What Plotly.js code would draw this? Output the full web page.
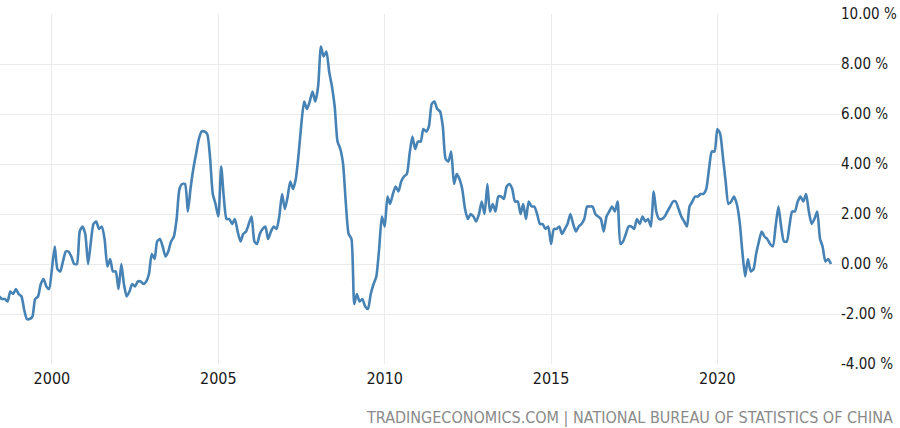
<!DOCTYPE html>
<html>
<head>
<meta charset="utf-8">
<script src="https://cdn.plot.ly/plotly-3.0.1.min.js"></script>
<style>
  html, body { margin: 0; padding: 0; background: #fff; }
  #chart { width: 900px; height: 428px; }
</style>
</head>
<body>
<div id="chart"></div>
<script>
// China inflation rate, yoy %, monthly, starting June 1998
var startYear = 1998, startMonth = 6;
var cpi1998 = [-1.3, -1.4, -1.4, -1.5, -1.1, -1.2, -1.0];
var cpi1999 = [-1.2, -1.3, -1.8, -2.2, -2.2, -2.1, -1.4, -1.3, -0.8, -0.6, -0.9, -1.0];
var cpi2000 = [-0.2, 0.7, -0.2, -0.3, 0.1, 0.5, 0.5, 0.3, 0.0, 0.0, 1.3, 1.5];
var cpi2001 = [1.2, 0.0, 0.8, 1.6, 1.7, 1.4, 1.5, 1.0, -0.1, 0.2, -0.3, -0.3];
var cpi2002 = [-1.0, 0.0, -0.8, -1.3, -1.1, -0.8, -0.9, -0.7, -0.7, -0.8, -0.7, -0.4];
var cpi2003 = [0.4, 0.2, 0.9, 1.0, 0.7, 0.3, 0.5, 0.9, 1.1, 1.8, 3.0, 3.2];
var cpi2004 = [3.2, 2.1, 3.0, 3.8, 4.4, 5.0, 5.3, 5.3, 5.2, 4.3, 2.8, 2.4];
var cpi2005 = [1.9, 3.9, 2.7, 1.8, 1.8, 1.6, 1.8, 1.3, 0.9, 1.2, 1.3, 1.6];
var cpi2006 = [1.9, 0.9, 0.8, 1.2, 1.4, 1.5, 1.0, 1.3, 1.5, 1.4, 1.9, 2.8];
var cpi2007 = [2.2, 2.7, 3.3, 3.0, 3.4, 4.4, 5.6, 6.5, 6.2, 6.5, 6.9, 6.5];
var cpi2008 = [7.1, 8.7, 8.3, 8.5, 7.7, 7.1, 6.3, 4.9, 4.6, 4.0, 2.4, 1.2];
var cpi2009 = [1.0, -1.6, -1.2, -1.5, -1.4, -1.7, -1.8, -1.2, -0.8, -0.5, 0.6, 1.9];
var cpi2010 = [1.5, 2.7, 2.4, 2.8, 3.1, 2.9, 3.3, 3.5, 3.6, 4.4, 5.1, 4.6];
var cpi2011 = [4.9, 4.9, 5.4, 5.3, 5.5, 6.4, 6.5, 6.2, 6.1, 5.5, 4.2, 4.1];
var cpi2012 = [4.5, 3.2, 3.6, 3.4, 3.0, 2.2, 1.8, 2.0, 1.9, 1.7, 2.0, 2.5];
var cpi2013 = [2.0, 3.2, 2.1, 2.4, 2.1, 2.7, 2.7, 2.6, 3.1, 3.2, 3.0, 2.5];
var cpi2014 = [2.5, 2.0, 2.4, 1.8, 2.5, 2.3, 2.3, 2.0, 1.6, 1.6, 1.4, 1.5];
var cpi2015 = [0.8, 1.4, 1.4, 1.5, 1.2, 1.4, 1.6, 2.0, 1.6, 1.3, 1.5, 1.6];
var cpi2016 = [1.8, 2.3, 2.3, 2.3, 2.0, 1.9, 1.8, 1.3, 1.9, 2.1, 2.3, 2.1];
var cpi2017 = [2.5, 0.8, 0.9, 1.2, 1.5, 1.5, 1.4, 1.8, 1.6, 1.9, 1.7, 1.8];
var cpi2018 = [1.5, 2.9, 2.1, 1.8, 1.8, 1.9, 2.1, 2.3, 2.5, 2.5, 2.2, 1.9];
var cpi2019 = [1.7, 1.5, 2.3, 2.5, 2.7, 2.7, 2.8, 2.8, 3.0, 3.8, 4.5, 4.5];
var cpi2020 = [5.4, 5.2, 4.3, 3.3, 2.4, 2.5, 2.7, 2.4, 1.7, 0.5, -0.5, 0.2];
var cpi2021 = [-0.3, -0.2, 0.4, 0.9, 1.3, 1.1, 1.0, 0.8, 0.7, 1.5, 2.3, 1.5];
var cpi2022 = [0.9, 0.9, 1.5, 2.1, 2.1, 2.5, 2.7, 2.5, 2.8, 2.1, 1.6, 1.8];
var cpi2023 = [2.1, 1.0, 0.7, 0.1, 0.2, 0.0];

var yTicks = [-4, -2, 0, 2, 4, 6, 8, 10];
var xTickYears = ['2000', '2005', '2010', '2015', '2020'];
var sourceText = 'TRADINGECONOMICS.COM | NATIONAL BUREAU OF STATISTICS OF CHINA';

var values = [].concat(cpi1998, cpi1999, cpi2000, cpi2001, cpi2002, cpi2003, cpi2004,
  cpi2005, cpi2006, cpi2007, cpi2008, cpi2009, cpi2010, cpi2011, cpi2012, cpi2013,
  cpi2014, cpi2015, cpi2016, cpi2017, cpi2018, cpi2019, cpi2020, cpi2021, cpi2022, cpi2023);

var dates = [];
for (var i = 0; i < values.length; i++) {
  var m = startMonth - 1 + i;
  var y = startYear + Math.floor(m / 12);
  var mm = (m % 12) + 1;
  dates.push(y + '-' + (mm < 10 ? '0' + mm : mm) + '-01');
}

var font = 'DejaVu Sans Condensed, DejaVu Sans, sans-serif';

var trace = {
  x: dates,
  y: values,
  type: 'scatter',
  mode: 'lines',
  line: {color: '#4682b4', width: 2.6, shape: 'spline', smoothing: 0.6},
  hoverinfo: 'x+y'
};

var layout = {
  width: 900, height: 428,
  margin: {l: 0, r: 60, t: 14, b: 64, pad: 0},
  paper_bgcolor: '#fff', plot_bgcolor: '#fff',
  showlegend: false,
  font: {family: font, size: 13, color: '#333'},
  xaxis: {
    type: 'date',
    range: ['1998-06-10', '2023-09-08'],
    tickvals: xTickYears.map(function (y) { return y + '-01-01'; }),
    ticktext: xTickYears,
    showgrid: true, gridcolor: '#ebebeb', gridwidth: 1,
    zeroline: false, showline: false, ticks: '',
    ticklabelstandoff: 3,
    tickfont: {family: font, size: 16, color: '#1a1a1a'}
  },
  yaxis: {
    side: 'right',
    range: [-4, 10],
    tickvals: yTicks,
    ticktext: yTicks.map(function (v) { return v.toFixed(2) + ' %'; }),
    showgrid: true, gridcolor: '#ebebeb', gridwidth: 1,
    zeroline: false, showline: false, ticks: '',
    ticklabelstandoff: 0,
    tickfont: {family: font, size: 15, color: '#1a1a1a'}
  },
  annotations: [{
    text: sourceText,
    xref: 'paper', yref: 'paper',
    x: 1.066, y: -0.152,
    xanchor: 'right', yanchor: 'middle',
    showarrow: false,
    font: {family: font, size: 16, color: '#8a8a8a'}
  }]
};

Plotly.newPlot('chart', [trace], layout, {displayModeBar: false, staticPlot: true});
</script>
</body>
</html>
